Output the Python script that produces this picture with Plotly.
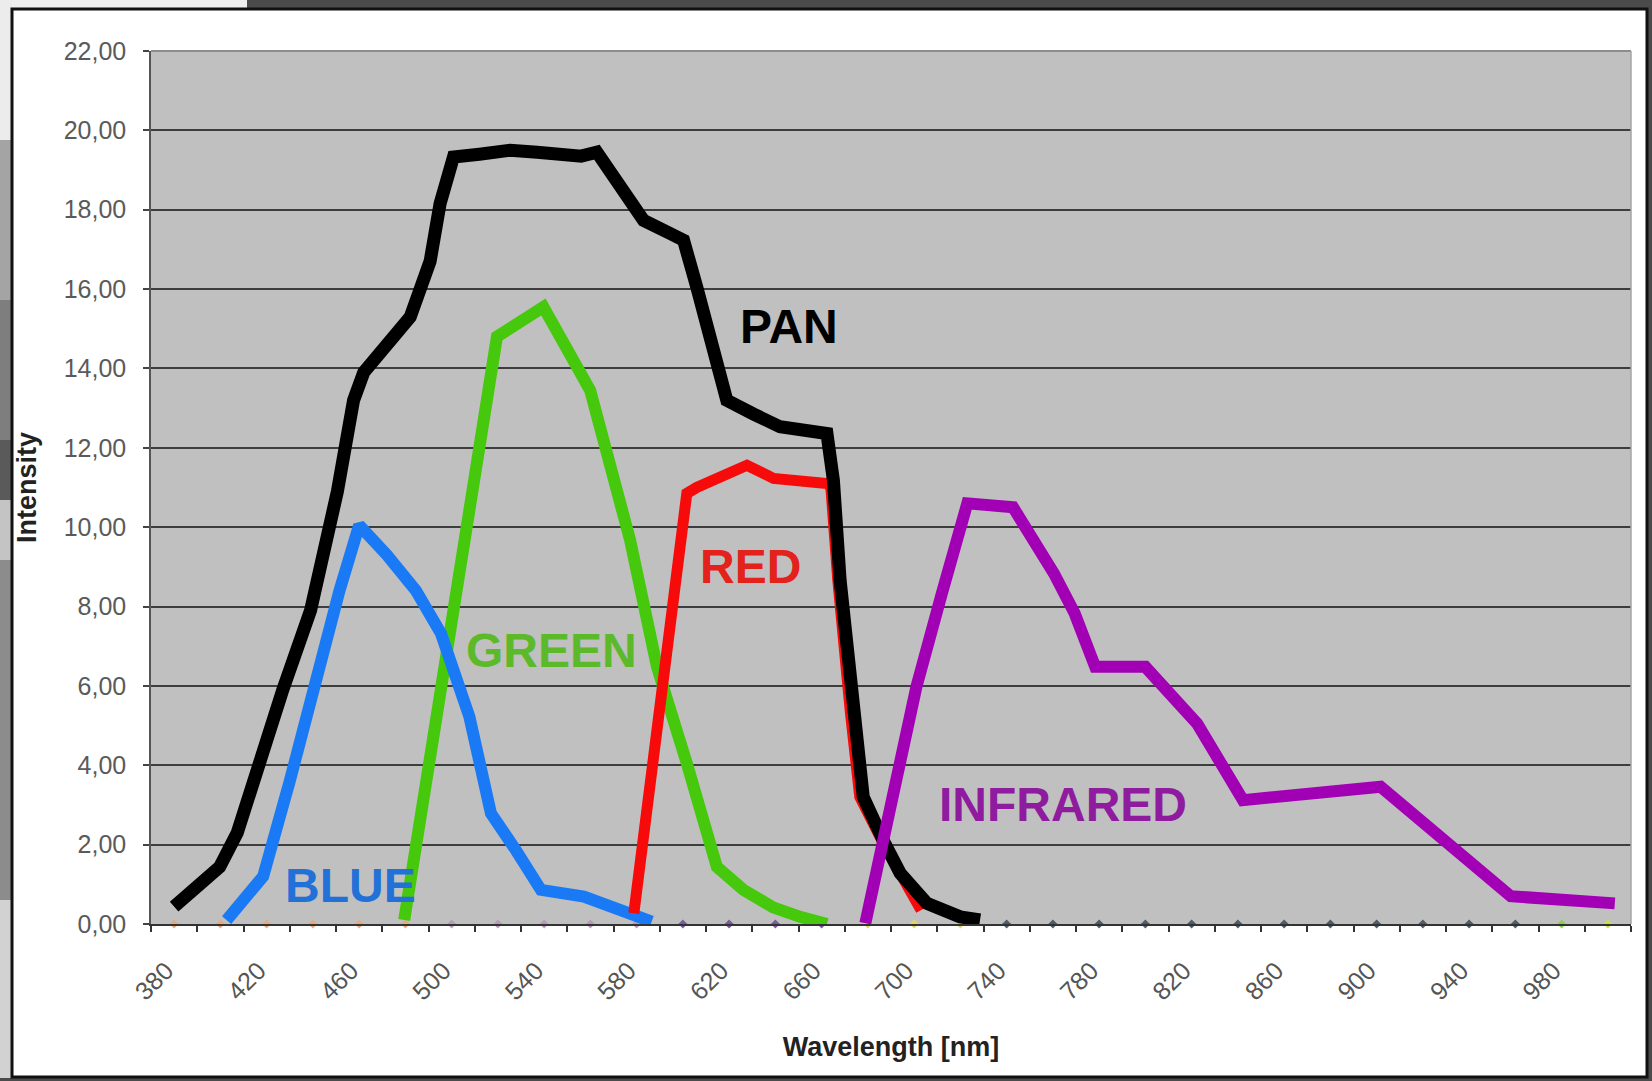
import plotly.graph_objects as go

# ---------------- data ----------------
categories_nm = [380, 400, 420, 440, 460, 480, 500, 520, 540, 560, 580, 600, 620, 640, 660, 680,
                 700, 720, 740, 760, 780, 800, 820, 840, 860, 880, 900, 920, 940, 960, 980, 1000]
baseline_values = [0, 0, 0, 0, 0, 0, 0, 0, 0, 0, 0, 0, 0, 0, 0, 0,
                   0, 0, 0, 0, 0, 0, 0, 0, 0, 0, 0, 0, 0, 0, 0, 0]
tick_values = [380, 420, 460, 500, 540, 580, 620, 660, 700, 740, 780, 820, 860, 900, 940, 980]
tick_labels = ["380", "420", "460", "500", "540", "580", "620", "660", "700", "740",
               "780", "820", "860", "900", "940", "980"]
y_tick_values = [0, 2, 4, 6, 8, 10, 12, 14, 16, 18, 20, 22]

pan_nm = [380, 389, 399.7, 407.3, 418, 427, 439, 445, 450.6, 457.6, 462, 482.1, 490.7,
          495, 500.8, 512, 525.3, 537, 546.9, 556, 562.8, 572, 583, 594.5, 600.3, 606, 619,
          630.6, 642, 662.3, 665.1, 668, 673.8, 678, 686.7, 694, 705.5, 719.9, 728.5]
pan_int = [0.44, 0.9, 1.44, 2.3, 4.3, 5.9, 7.9, 9.3, 10.9, 13.2, 13.9, 15.3, 16.7,
           18.15, 19.33, 19.4, 19.5, 19.45, 19.37, 19.35, 19.45, 18.7, 17.73, 17.4, 17.23, 16.05, 13.2,
           12.85, 12.53, 12.36, 11.18, 8.66, 5.3, 3.2, 2.1, 1.28, 0.52, 0.18, 0.1]

blue_nm = [402.7, 418.5, 430, 441.5, 451.5, 460, 472, 484.6, 495.4, 507.7, 517, 527.8,
           538.6, 557.2, 568, 577.2, 586.5]
blue_int = [0.1, 1.2, 3.6, 6.3, 8.4, 10.05, 9.3, 8.4, 7.32, 5.22, 2.79, 1.86,
            0.86, 0.69, 0.45, 0.27, 0.06]

green_nm = [479.5, 490, 500, 508.5, 519.6, 539.7, 559.9, 577.2, 588.8, 601.7, 614.7, 626.2,
            639, 650.7, 662.3]
green_int = [0.1, 4.0, 8.0, 11.0, 14.8, 15.55, 13.45, 9.67, 6.48, 4.05, 1.44, 0.86,
             0.42, 0.18, 0.0]

red_nm = [578.8, 595.8, 601.7, 606, 617, 627.7, 639.2, 650, 662.3, 664, 667, 672.5, 676.5,
          687, 697, 703]
red_int = [0.27, 8.16, 10.85, 11.0, 11.3, 11.56, 11.23, 11.15, 11.1, 11.0, 8.66, 5.3, 3.2,
           2.0, 0.9, 0.35]

ir_nm = [678.9, 690, 701, 712, 723, 742.8, 760.5, 769.4, 778.3, 800, 822.4, 842.2, 870,
         901.7, 958, 983, 1003]
ir_int = [0.02, 3.04, 5.98, 8.33, 10.6, 10.5, 8.83, 7.83, 6.48, 6.48, 5.05, 3.12, 3.28,
          3.46, 0.7, 0.6, 0.52]

# label positions (wavelength, intensity)
label_text = ["PAN", "RED", "GREEN", "BLUE", "INFRARED"]
label_nm = [645.7, 629.4, 543.0, 456.1, 764.4]
label_int = [15.07, 9.0, 6.9, 0.96, 3.02]

# ---------------- styles ----------------
marker_colors = (["#e6a982"] * 6 + ["#b79ab8"] * 5 + ["#7b5a9c"] * 4 + ["#e3d46a"] * 3 +
                 ["#4f5b66"] * 12 + ["#8fcf50", "#c8df4a"])
label_colors = ["#000000", "#e3221c", "#5cba2a", "#2271d8", "#8f1b9f"]

W, H = 1652, 1081
ML, MR, MT, MB = 151, 21, 51, 157
PW, PH = W - ML - MR, H - MT - MB


def fx(p):
    return (p - ML) / PW


def fy(q):
    return (H - MB - q) / PH


fig = go.Figure()

fig.add_trace(go.Scatter(x=categories_nm, y=baseline_values, mode="markers",
                         marker=dict(color=marker_colors, size=7, symbol="diamond"),
                         showlegend=False, hoverinfo="skip", cliponaxis=False))

line_specs = [
    ("GREEN", green_nm, green_int, "#46c80c", 12),
    ("BLUE", blue_nm, blue_int, "#1a7af5", 12),
    ("RED", red_nm, red_int, "#f70a0a", 11),
    ("PAN", pan_nm, pan_int, "#000000", 13),
    ("INFRARED", ir_nm, ir_int, "#a200b4", 12),
]
for name, xs, ys, col, wd in line_specs:
    fig.add_trace(go.Scatter(x=xs, y=ys, mode="lines", name=name,
                             line=dict(color=col, width=wd),
                             showlegend=False))

annotations = []
for t, xv, yv, c in zip(label_text, label_nm, label_int, label_colors):
    annotations.append(dict(x=xv, y=yv, xref="x", yref="y", text=t, showarrow=False,
                            font=dict(family="Liberation Sans", size=48, color=c, weight="bold"),
                            xanchor="center", yanchor="middle"))

shapes = []


def rect(x0, y0, x1, y1, fill, line=None, lw=0):
    d = dict(type="rect", xref="paper", yref="paper",
             x0=fx(x0), x1=fx(x1), y0=fy(y1), y1=fy(y0), layer="above")
    d["fillcolor"] = fill if fill else "rgba(0,0,0,0)"
    d["line"] = dict(color=line if line else "rgba(0,0,0,0)", width=lw)
    shapes.append(d)


# outer slide frame
rect(0, 0, 247, 9, "#efefef")
rect(247, 0, W, 9, "#4b4b4b")
rect(0, 0, 12, 140, "#ececec")
rect(0, 140, 12, 300, "#a4a4a4")
rect(0, 300, 12, 440, "#7e7e7e")
rect(0, 440, 12, 500, "#5a5a5a")
rect(0, 500, 12, 560, "#c4c4c4")
rect(0, 560, 12, 900, "#8c8c8c")
rect(0, 900, 12, H, "#d2d2d2")
rect(1648, 0, W, H, "#4b4b4b")
rect(0, 1078, W, H, "#4b4b4b")
rect(12, 9, 1647, 1077, None, "#111111", 3)

# plot area border (top & right)
shapes.append(dict(type="line", xref="paper", yref="paper", x0=0, x1=1, y0=1, y1=1,
                   line=dict(color="#8d8d8d", width=2), layer="above"))
shapes.append(dict(type="line", xref="paper", yref="paper", x0=1, x1=1, y0=0, y1=1,
                   line=dict(color="#a6a6a6", width=1.5), layer="above"))

fig.update_layout(
    width=W, height=H,
    margin=dict(l=ML, r=MR, t=MT, b=MB, autoexpand=False),
    paper_bgcolor="#ffffff",
    plot_bgcolor="#c0c0c0",
    separators=",.",
    font=dict(family="Liberation Sans", color="#555555"),
    showlegend=False,
    annotations=annotations,
    shapes=shapes,
    xaxis=dict(
        range=[370, 1010],
        tickmode="array", tickvals=tick_values, ticktext=tick_labels,
        tickangle=-45, ticks="", ticklabelstandoff=20, ticklabelshift=-8,
        tickfont=dict(family="Liberation Sans", size=25, color="#555555"),
        showgrid=False, zeroline=False,
        showline=True, linecolor="#333333", linewidth=2,
        minor=dict(tickmode="linear", tick0=370, dtick=20, ticks="outside",
                   ticklen=6, tickcolor="#333333", tickwidth=1.5, showgrid=False),
        title=dict(text="<b>Wavelength [nm]</b>", standoff=33,
                   font=dict(family="Liberation Sans", size=27, color="#222222")),
    ),
    yaxis=dict(
        range=[0, 22],
        tickmode="array", tickvals=y_tick_values, tickformat=".2f",
        ticks="outside", ticklen=6, tickcolor="#444444", tickwidth=1.5,
        ticklabelstandoff=12,
        tickfont=dict(family="Liberation Sans", size=25, color="#5a5a5a"),
        showgrid=True, gridcolor="#3d3d3d", gridwidth=2,
        zeroline=False,
        showline=True, linecolor="#555555", linewidth=1.5,
        title=dict(text="<b>Intensity</b>", standoff=19,
                   font=dict(family="Liberation Sans", size=27, color="#222222")),
    ),
)

fig.write_html("out.html", config={"displayModeBar": False},
               post_script="document.body.style.margin='0px';")
